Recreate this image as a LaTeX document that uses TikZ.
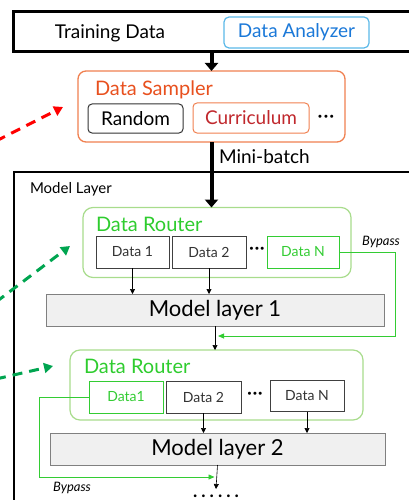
\documentclass[tikz,border=0pt]{standalone}
\usepackage{fontspec}
\setmainfont{Lato}
\usetikzlibrary{arrows.meta}
\definecolor{anblue}{HTML}{5BB8E8}
\definecolor{antext}{HTML}{1A78D8}
\definecolor{samporange}{HTML}{F08050}
\definecolor{samptext}{HTML}{E8501E}
\definecolor{currtext}{HTML}{C0282D}
\definecolor{routeline}{HTML}{A8DC8C}
\definecolor{routetext}{HTML}{2ECC2E}
\definecolor{passgreen}{HTML}{33CC33}
\definecolor{dashgreen}{HTML}{00A550}
\definecolor{layerfill}{HTML}{F0F0F0}

\begin{document}
\begin{tikzpicture}[x=1pt, y=-1pt, every node/.style={inner sep=0pt, outer sep=0pt},
  frame/.style={draw=black, anchor=north west},
  databox/.style={draw=black!75, line width=0.8pt, minimum height=32, font=\fontsize{14}{16}\selectfont, text=black!80},
  greenbox/.style={databox, draw=passgreen, text=passgreen},
  router/.style={draw=routeline, line width=1.2pt, rounded corners=10pt, minimum width=#1, minimum height=70},
  layer/.style={draw=black!50, fill=layerfill, line width=0.8pt, minimum height=32, font=\fontsize{22}{24}\selectfont},
  bigarrow/.style={line width=4pt, -{Triangle[length=8pt, width=13pt]}},
  thinarrow/.style={line width=0.6pt, -{Triangle[length=5pt, width=5pt]}},
  bypass/.style={draw=passgreen, line width=0.8pt, -{Triangle[length=6pt, width=5pt]}},
  hint/.style={line width=3pt, dash pattern=on 10pt off 7pt, -{Triangle[length=9pt, width=10pt]}},
  gap/.style={font=\fontsize{16}{18}\selectfont\bfseries},
  passlabel/.style={font=\fontsize{13}{15}\selectfont\itshape}]
\useasboundingbox (0,0) rectangle (408,500);

\node[frame, line width=3pt, minimum width=420, minimum height=40] (top) at (13,12) {};
\node (train) at (110,33) {\fontsize{19}{22}\selectfont Training Data};
\node[draw=anblue, line width=1.2pt, rounded corners=5pt, minimum width=145, minimum height=31, text=antext, font=\fontsize{19}{22}\selectfont] (analyzer) at (296.5,32.5) {Data Analyzer};

\node[draw=samporange, line width=1.3pt, rounded corners=8pt, minimum width=267, minimum height=71] (sampler) at (211.5,106.5) {};
\node[anchor=west, text=samptext, font=\fontsize{20}{22}\selectfont] (samptitle) at (95,90) {Data Sampler};
\node[draw=black!80, line width=1pt, rounded corners=4pt, minimum width=95, minimum height=29, font=\fontsize{19}{22}\selectfont] (random) at (135.5,118.5) {Random};
\node[draw=samporange, line width=1pt, rounded corners=4pt, minimum width=116, minimum height=30, text=currtext, font=\fontsize{19}{22}\selectfont] (curriculum) at (251,118) {Curriculum};
\node[gap] (sampdots) at (326,118) {·\hspace{1.5pt}·\hspace{1.5pt}·};
\draw[bigarrow] (top.south -| sampler.north) -- (sampler.north);

\coordinate (redstart) at (-4,141);
\coordinate (redend) at (63,107);
\draw[hint, red] (redstart) -- (redend);

\node[frame, line width=2pt, minimum width=420, minimum height=360] (model) at (14,172) {};
\node[anchor=west, font=\fontsize{15}{17}\selectfont] (modeltitle) at (30,189) {Model Layer};

\node[router=268] (router1) at (217,242.5) {};
\node[anchor=west, text=routetext, font=\fontsize{20}{22}\selectfont] (r1title) at (96,224) {Data Router};
\node[databox, minimum width=73] (d11) at (132.5,252) {Data 1};
\node[databox, minimum width=74] (d12) at (209,252) {Data 2};
\node[gap] (r1dots) at (257,250) {·\hspace{1pt}·\hspace{1pt}·};
\node[greenbox, minimum width=72] (d1n) at (303,252) {Data N};
\draw[bigarrow] (sampler.south) -- (sampler.south |- router1.north);
\node[anchor=west, font=\fontsize{19}{22}\selectfont] (minibatch) at (219,157) {Mini-batch};

\coordinate (g1start) at (-4,302);
\coordinate (g1end) at (70,246);
\draw[hint, dashgreen] (g1start) -- (g1end);

\node[layer, minimum width=338] (ml1) at (215,310) {Model layer 1};
\draw[thinarrow] (d11.south) -- (d11.south |- ml1.north);
\draw[thinarrow] (d12.south) -- (d12.south |- ml1.north);
\coordinate (b1) at (395,336);
\draw[bypass] (d1n.east) -| (b1) -- ([xshift=3pt]ml1.south |- b1);
\node[passlabel] (pass1) at (381,242) {Bypass};

\node[router=293] (router2) at (216.5,385) {};
\node[anchor=west, text=routetext, font=\fontsize{20}{22}\selectfont] (r2title) at (84,366) {Data Router};
\node[greenbox, minimum width=74] (d21) at (126,397) {Data1};
\node[databox, minimum width=75] (d22) at (203.5,397) {Data 2};
\node[gap] (r2dots) at (255,395) {·\hspace{1pt}·\hspace{1pt}·};
\node[databox, minimum width=74, minimum height=31] (d2n) at (307,396) {Data N};
\draw[thinarrow] (ml1.south) -- (ml1.south |- router2.north);

\coordinate (g2start) at (-4,379);
\coordinate (g2end) at (53,366);
\draw[hint, dashgreen] (g2start) -- (g2end);

\node[layer, minimum width=335] (ml2) at (217.5,449) {Model layer 2};
\draw[thinarrow] (d22.south) -- (d22.south |- ml2.north);
\draw[thinarrow] (d2n.south) -- (d2n.south |- ml2.north);
\coordinate (b2) at (39,477);
\draw[bypass] (d21.west) -| (b2) -- ([xshift=-3pt]ml2.south |- b2);
\node[passlabel] (pass2) at (72,488) {Bypass};

\node[anchor=base] (moredots) at (216,497.5) {\fontsize{18}{20}\selectfont\textbf{.\hspace{4pt}.\hspace{4pt}.\hspace{4pt}.\hspace{4pt}.\hspace{4pt}.}};
\coordinate (moreend) at (216,489);
\draw[thinarrow] (ml2.south) -- (moreend);
\end{tikzpicture}
\end{document}
